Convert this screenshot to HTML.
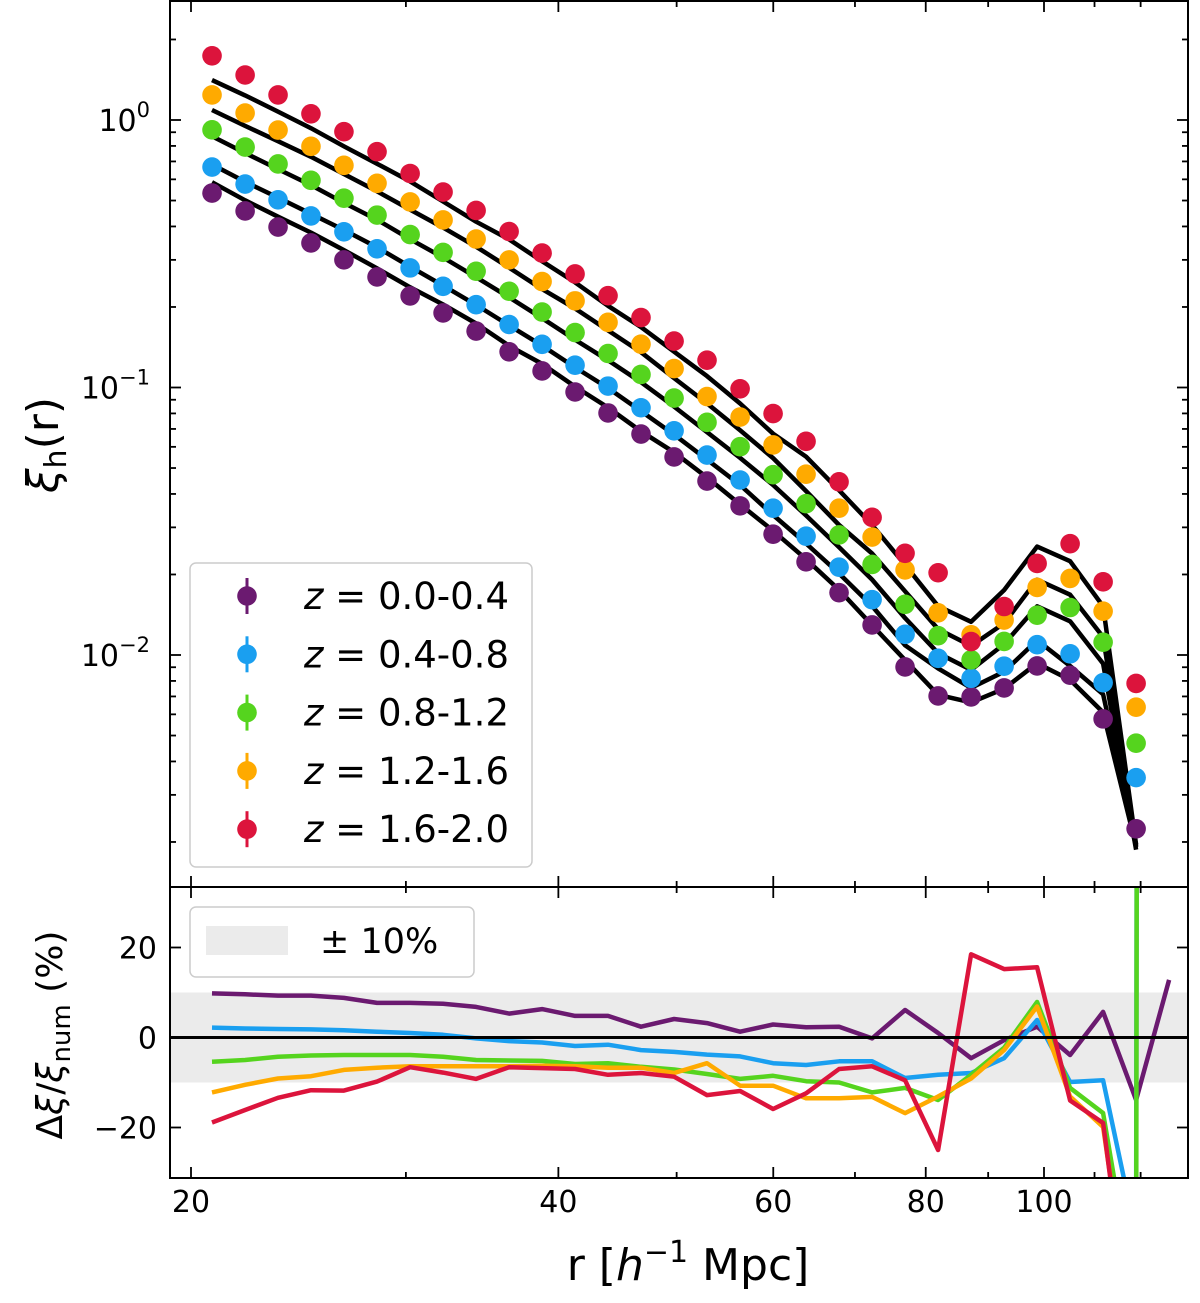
<!DOCTYPE html>
<html><head><meta charset="utf-8"><style>
html,body{margin:0;padding:0;background:#fff;overflow:hidden;width:1200px;height:1303px;}
svg{display:block;font-family:"DejaVu Sans","Liberation Sans",sans-serif;}
</style></head><body>
<svg id="chart" width="1200" height="1303" viewBox="0 0 1200 1303" xmlns="http://www.w3.org/2000/svg">
<defs>
<clipPath id="clipTop"><rect x="170" y="1" width="1018" height="886"/></clipPath>
<clipPath id="clipBot"><rect x="170" y="887" width="1018" height="291"/></clipPath>
</defs>
<rect id="band" fill="#ebebeb"/>
<g id="topLines" clip-path="url(#clipTop)"></g>
<g id="topDots" clip-path="url(#clipTop)"></g>
<g id="botLines" clip-path="url(#clipBot)"></g>
<g id="ticks"></g>
<rect x="170" y="1" width="1018" height="886" fill="none" stroke="#000" stroke-width="2"/>
<rect x="170" y="887" width="1018" height="291" fill="none" stroke="#000" stroke-width="2"/>
<text transform="translate(58,445) rotate(-90)" text-anchor="middle" font-size="44"><tspan font-style="italic">ξ</tspan><tspan font-size="30" dy="8">h</tspan><tspan dy="-8">(r)</tspan></text>
<text transform="translate(62,1035) rotate(-90)" text-anchor="middle" font-size="36">Δ<tspan font-style="italic">ξ</tspan>/<tspan font-style="italic">ξ</tspan><tspan font-size="26" dy="8">num</tspan><tspan dy="-8"> (%)</tspan></text>
<text x="688" y="1280" text-anchor="middle" font-size="44">r [<tspan font-style="italic">h</tspan><tspan font-size="30" dy="-18">−1</tspan><tspan dy="18"> Mpc]</tspan></text>
<g>
<rect x="190" y="563" width="342" height="304" rx="6" fill="#fff" stroke="#ccc" stroke-width="1.5"/>
<g id="legItems"></g>
</g>
<g>
<rect x="190" y="907" width="284" height="70" rx="6" fill="#fff" stroke="#ccc" stroke-width="1.5"/>
<rect x="206" y="926" width="82" height="29" fill="#ebebeb"/>
<text x="320" y="953" font-size="35">± 10%</text>
</g>
</svg>
<script>
const rPts = [20.81,22.15,23.57,25.08,26.69,28.41,30.24,32.18,34.25,36.45,38.79,41.28,43.93,46.75,49.76,52.95,56.36,59.98,63.83,67.93,72.30,76.94,81.89,87.15,92.75,98.71,105.05,111.80,118.98,126.63];
const seriesNames = ['z-0.0-0.4','z-0.4-0.8','z-0.8-1.2','z-1.2-1.6','z-1.6-2.0'];
const legendLabels = ['0.0-0.4','0.4-0.8','0.8-1.2','1.2-1.6','1.6-2.0'];
const colors = ['#6b1a70','#1a9ff0','#55d41e','#ffaa00','#dc143c'];
const xiPurple = [0.533,0.457,0.398,0.347,0.300,0.259,0.220,0.190,0.1625,0.136,0.1153,0.0962,0.0803,0.0670,0.0550,0.0447,0.0361,0.0283,0.0223,0.0171,0.01295,0.00902,0.00703,0.00697,0.00753,0.0091,0.0084,0.00577,0.00224];
const xiBlue = [0.667,0.576,0.503,0.438,0.382,0.330,0.280,0.239,0.204,0.172,0.145,0.1212,0.1012,0.0840,0.0689,0.0559,0.0451,0.0354,0.0278,0.0213,0.0161,0.01195,0.00972,0.00818,0.00908,0.01093,0.01010,0.00788,0.00348];
const xiGreen = [0.919,0.792,0.685,0.595,0.510,0.441,0.373,0.320,0.272,0.229,0.1915,0.1604,0.1340,0.1119,0.0913,0.0741,0.0601,0.0472,0.0368,0.0281,0.0218,0.01547,0.01181,0.00959,0.01124,0.01409,0.01505,0.01116,0.00468];
const xiOrange = [1.241,1.062,0.917,0.797,0.677,0.580,0.494,0.423,0.359,0.300,0.249,0.2108,0.1752,0.1452,0.1177,0.0925,0.0775,0.0610,0.0474,0.0354,0.0276,0.0208,0.01438,0.01190,0.01351,0.01789,0.01933,0.01458,0.00638];
const xiRed = [1.738,1.473,1.241,1.055,0.904,0.761,0.631,0.538,0.459,0.383,0.318,0.2657,0.2204,0.1826,0.1491,0.1265,0.0989,0.0799,0.0629,0.0444,0.0327,0.0240,0.0203,0.01123,0.01518,0.02199,0.02606,0.01877,0.00783];
const resPurple = [9.8,9.6,9.3,9.3,8.8,7.7,7.7,7.5,6.8,5.3,6.3,4.8,4.8,2.4,4.1,3.2,1.3,2.9,2.3,2.4,-0.2,6.1,1.0,-4.6,-0.6,2.4,-3.9,5.7,-13.9,12.8];
const resBlue = [2.2,2.0,1.9,1.8,1.6,1.3,1.0,0.6,-0.2,-0.8,-1.1,-1.9,-1.6,-2.8,-3.2,-3.8,-4.2,-5.7,-6.1,-5.3,-5.3,-9.0,-8.3,-7.9,-4.6,3.9,-9.9,-9.5,-44,5000];
const resGreen = [-5.4,-5.0,-4.3,-4.0,-3.9,-3.9,-3.9,-4.3,-5.0,-5.1,-5.2,-5.9,-5.7,-6.5,-7.1,-8.1,-9.2,-8.5,-9.7,-10.0,-12.2,-11.2,-13.9,-8.3,-2.3,7.9,-11.2,-16.8,-60,5000];
const resOrange = [-12.2,-10.5,-9.1,-8.6,-7.2,-6.7,-6.4,-6.4,-6.4,-6.4,-6.3,-6.4,-6.7,-6.7,-7.9,-5.7,-10.7,-10.7,-13.5,-13.5,-13.2,-16.8,-13.1,-9.1,-2.8,6.9,-13.1,-19.9,-70,-90];
const resRed = [-18.9,-16.1,-13.4,-11.7,-11.8,-9.8,-6.6,-7.8,-9.2,-6.6,-6.8,-7.0,-8.3,-7.9,-8.7,-12.8,-11.9,-15.9,-12.4,-7.0,-6.4,-9.5,-25.0,18.5,15.2,15.6,-14.0,-19.0,-75,-90];
const xMajorTicks = [20,40,60,80,100];
const xMinorTicks = [30,50,70,90,110,120];
const yTopMajor = [1,0.1,0.01];
const yTopMajorLabels = ['0','−1','−2'];
const yBotTicks = [20,0,-20];
const yBotLabels = ['20','0','−20'];

const xiAll = [xiPurple,xiBlue,xiGreen,xiOrange,xiRed];
const resAll = [resPurple,resBlue,resGreen,resOrange,resRed];
const NS='http://www.w3.org/2000/svg';
const xs = r => 191 + 530*Math.log(r/20);
const yT = v => 120 - 267.5*Math.log10(v);
const yB = v => 1037.5 - 4.5*v;
function mk(tag, attrs, parent){const e=document.createElementNS(NS,tag);for(const k in attrs)e.setAttribute(k,attrs[k]);parent.appendChild(e);return e;}

const band=document.getElementById('band');
band.setAttribute('x',171);band.setAttribute('width',1016);
band.setAttribute('y',yB(10));band.setAttribute('height',yB(-10)-yB(10));

const topLines=document.getElementById('topLines'), topDots=document.getElementById('topDots'), botLines=document.getElementById('botLines');
for(let s=0;s<5;s++){
  const xi=xiAll[s], res=resAll[s];
  const mp=xi.map((v,i)=>xs(rPts[i]).toFixed(1)+','+yT(v*(1+res[i]/100)).toFixed(1)).join(' ');
  const ml=mk('polyline',{points:mp,fill:'none',stroke:'#000','stroke-width':4.5,'stroke-linejoin':'round'},topLines);
  
  
}
for(let s=0;s<5;s++){
  const xi=xiAll[s];
  xi.forEach((v,i)=>{
    const c=mk('circle',{cx:xs(rPts[i]),cy:yT(v),r:9.8,fill:colors[s]},topDots);
    
    
  });
}
for(let s=0;s<5;s++){
  const res=resAll[s];
  const pts=res.map((v,i)=>xs(rPts[i]).toFixed(1)+','+yB(v).toFixed(1)).join(' ');
  const pl=mk('polyline',{points:pts,fill:'none',stroke:colors[s],'stroke-width':4.5,'stroke-linejoin':'round'},botLines);
  
  
}
const zl=mk('line',{x1:170,x2:1188,y1:yB(0),y2:yB(0),stroke:'#000','stroke-width':3},botLines);



const tk=document.getElementById('ticks');
function tick(x1,y1,x2,y2){mk('line',{x1,y1,x2,y2,stroke:'#000','stroke-width':1.8},tk);}
const panels=[[1,887],[887,1178]];
xMajorTicks.forEach(r=>{const x=xs(r);panels.forEach(p=>{tick(x,p[0],x,p[0]+11);tick(x,p[1],x,p[1]-11);});
  const t=mk('text',{x:x,y:1212,'text-anchor':'middle','font-size':30},tk);t.textContent=r;
  
  });
xMinorTicks.forEach(r=>{const x=xs(r);panels.forEach(p=>{tick(x,p[0],x,p[0]+6);tick(x,p[1],x,p[1]-6);});});
yTopMajor.forEach((v,i)=>{const y=yT(v);tick(170,y,181,y);tick(1188,y,1177,y);
  const t=mk('text',{x:150,y:y+11,'text-anchor':'end','font-size':30},tk);
  
  
  t.appendChild(document.createTextNode('10'));
  const sp=mk('tspan',{'font-size':21,dy:-14},t);sp.textContent=yTopMajorLabels[i];});
for(let d=-3;d<=0;d++){for(let m=2;m<=9;m++){const v=m*Math.pow(10,d);const y=yT(v);if(y>3&&y<885){tick(170,y,176,y);tick(1188,y,1182,y);}}}
yBotTicks.forEach((v,i)=>{const y=yB(v);tick(170,y,181,y);tick(1188,y,1177,y);
  const t=mk('text',{x:157,y:y+11,'text-anchor':'end','font-size':30},tk);t.textContent=yBotLabels[i];
  
  });

const leg=document.getElementById('legItems');
legendLabels.forEach((lab,i)=>{
  const y=596+58.3*i;
  const g=mk('g',{},leg);
  
  
  mk('line',{x1:247,x2:247,y1:y-18,y2:y+18,stroke:colors[i],'stroke-width':3},g);
  mk('circle',{cx:247,cy:y,r:9.8,fill:colors[i]},g);
  const t=mk('text',{x:304,y:y+13,'font-size':37},g);
  const zt=mk('tspan',{'font-style':'italic'},t);zt.textContent='z';
  t.appendChild(document.createTextNode(' = '+lab));
});
</script>
</body></html>
